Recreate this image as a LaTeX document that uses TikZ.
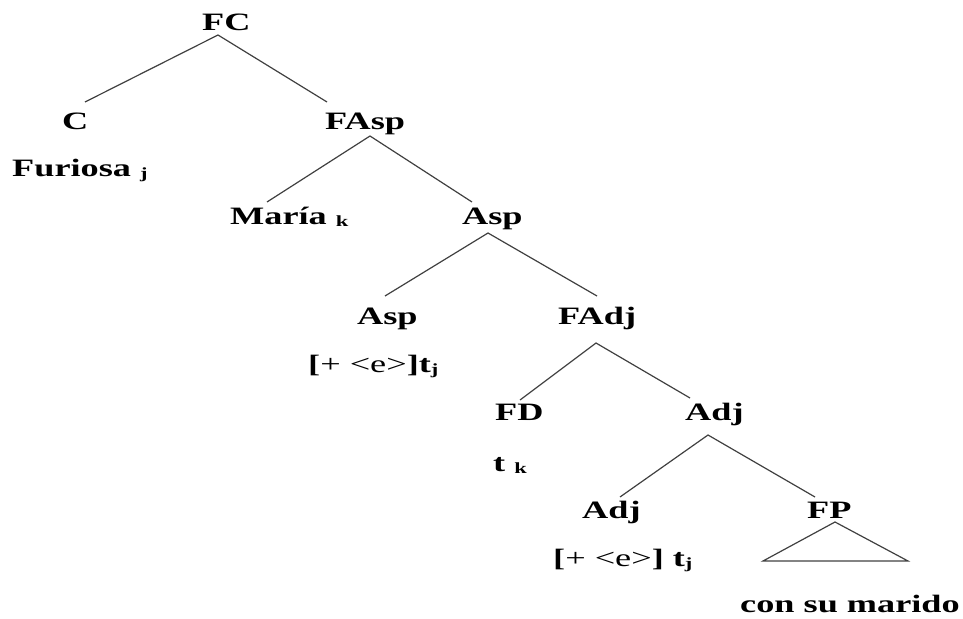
\documentclass[tikz,border=0pt]{standalone}
\usepackage{fontspec}
\setmainfont{Liberation Serif}[FakeStretch=1.45]
\begin{document}
\begin{tikzpicture}[x=1pt,y=-1pt,
  lab/.style={anchor=base west,inner sep=0pt,font=\fontsize{25}{28}\selectfont\bfseries},
  edge/.style={line width=1.2pt,draw=black!75}]
\useasboundingbox (0,0) rectangle (963,618);
\newcommand{\sbs}[1]{{\fontsize{15.5}{16}\selectfont\raisebox{-0.35ex}{#1}}}
\newcommand{\fe}{{\mdseries+ <e>}}
\node[lab] (FC) at (202,31) {FC};
\node[lab] (C) at (62,129) {C};
\node[lab] (FAsp) at (325,129) {FAsp};
\node[lab] (Fur) at (12,176) {Furiosa \sbs{j}};
\node[lab] (Maria) at (230,224) {María \sbs{k}};
\node[lab] (AspA) at (462,224) {Asp};
\node[lab] (AspB) at (357,324) {Asp};
\node[lab] (FAdj) at (558,324) {FAdj};
\node[lab] (feA) at (308,372) {[\fe]t\sbs{j}};
\node[lab] (FD) at (495,420) {FD};
\node[lab] (AdjA) at (685,420) {Adj};
\node[lab] (tk) at (493,471) {t \sbs{k}};
\node[lab] (AdjB) at (582,518) {Adj};
\node[lab] (FP) at (807,518) {FP};
\node[lab] (feB) at (553,566) {[\fe] t\sbs{j}};
\node[lab] (con) at (740,612) {con su marido};
\draw[edge] ([shift={(23,-27)}]C.base west) -- ([shift={(16,4)}]FC.base west) -- ([shift={(2,-27)}]FAsp.base west);
\draw[edge] ([shift={(37,-22)}]Maria.base west) -- ([shift={(45,7)}]FAsp.base west) -- ([shift={(10,-22)}]AspA.base west);
\draw[edge] ([shift={(28,-28)}]AspB.base west) -- ([shift={(26,9)}]AspA.base west) -- ([shift={(39,-28)}]FAdj.base west);
\draw[edge] ([shift={(25,-20)}]FD.base west) -- ([shift={(38,19)}]FAdj.base west) -- ([shift={(5,-22)}]AdjA.base west);
\draw[edge] ([shift={(38,-21)}]AdjB.base west) -- ([shift={(23,15)}]AdjA.base west) -- ([shift={(8,-21)}]FP.base west);
\draw[edge] ([shift={(28,4)}]FP.base west) -- ([shift={(-44,43)}]FP.base west) -- ([shift={(101,43)}]FP.base west) -- cycle;
\end{tikzpicture}
\end{document}
